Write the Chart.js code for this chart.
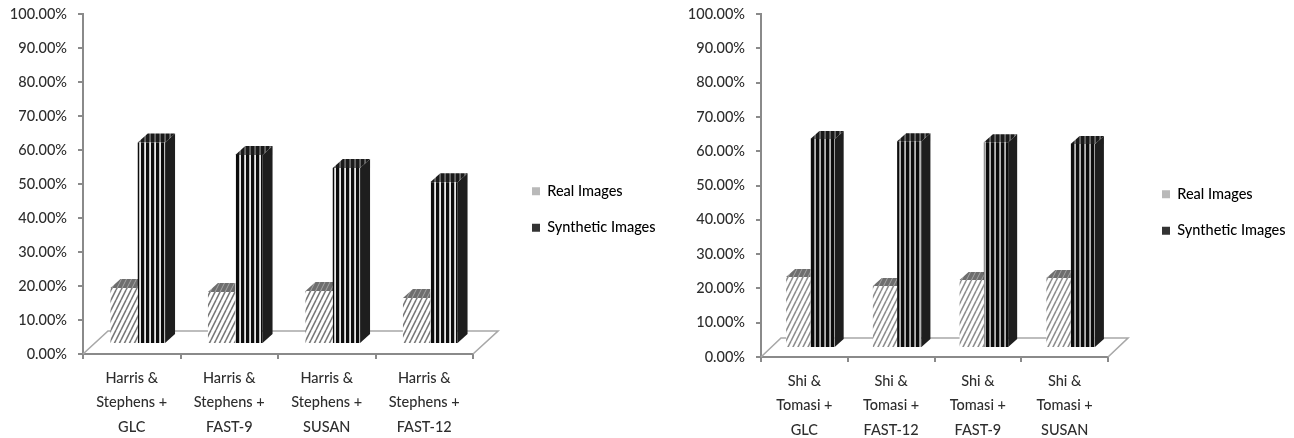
<!DOCTYPE html>
<html>
<head>
<meta charset="utf-8">
<script src="https://cdn.jsdelivr.net/npm/chart.js@4"></script>
<style>
html,body{margin:0;padding:0;background:#fff;width:1294px;height:438px;overflow:hidden}
canvas{position:absolute;top:0;filter:blur(0.45px)}
#left{left:0}
#right{left:660px}
</style>
</head>
<body>
<canvas id="left" width="660" height="438"></canvas>
<canvas id="right" width="634" height="438"></canvas>
<script>
const leftCategories = [
  ["Harris &","Stephens +","GLC"],
  ["Harris &","Stephens +","FAST-9"],
  ["Harris &","Stephens +","SUSAN"],
  ["Harris &","Stephens +","FAST-12"]
];
const leftReal = [16.5, 15.3, 15.6, 13.5];
const leftSynthetic = [59.3, 55.6, 51.8, 47.6];

const rightCategories = [
  ["Shi &","Tomasi +","GLC"],
  ["Shi &","Tomasi +","FAST-12"],
  ["Shi &","Tomasi +","FAST-9"],
  ["Shi &","Tomasi +","SUSAN"]
];
const rightReal = [20.7, 18.1, 19.8, 20.4];
const rightSynthetic = [60.9, 60.3, 60.0, 59.5];

const seriesNames = ["Real Images","Synthetic Images"];
const yTicks = [0,10,20,30,40,50,60,70,80,90,100];

Chart.defaults.animation = false;
const FONT = "Lato, 'Open Sans', sans-serif";
const TEXT = "#2e2e2e", AXIS = "#8a8a8a";

function tile(w,h,paint){
  const c=document.createElement('canvas');c.width=w;c.height=h;
  paint(c.getContext('2d'),w,h);
  return c.getContext('2d').createPattern(c,'repeat');
}
const hatch = (bg,fg,lw)=>tile(5,10,(g,w,h)=>{
  g.fillStyle=bg;g.fillRect(0,0,w,h);
  g.strokeStyle=fg;g.lineWidth=lw;
  [-5,0,5].forEach(o=>{g.beginPath();g.moveTo(o,h);g.lineTo(o+w,0);g.stroke();});
});
const stripes = (bg,fg)=>tile(5,4,(g,w,h)=>{
  g.fillStyle=bg;g.fillRect(0,0,w,h);
  g.fillStyle=fg;g.fillRect(3.2,0,1.8,h);
});

function makeChart(id,cats,real,synth,geo){
  const realFront=hatch('#fff',geo.hatch,1.6), realTop=hatch('#6e6e6e','#a5a5a5',1);
  const synthFront=stripes('#0c0c0c',geo.stripe), synthTop=stripes('#1a1a1a','#666');
  const cv=document.getElementById(id);
  const threeD={
    id:'threeD',
    beforeInit(chart){
      const fit=chart.legend.fit;
      chart.legend.fit=function(){fit.call(this);this.width=cv.width-geo.right;};
    },
    beforeDraw(chart){
      chart.legend.left=geo.legendX;
      chart.legend.right=geo.legendX+180;
      chart.legend.top=geo.legendY;
      chart.legend.bottom=geo.legendY+200;
    },
    beforeDatasetsDraw(chart){
      const c=chart.ctx,x=chart.scales.x,y=chart.scales.y,y0=y.getPixelForValue(0);
      c.save();
      c.strokeStyle='#a8a8a8';c.lineWidth=1.6;
      c.beginPath();
      c.moveTo(x.left,y0);
      c.lineTo(x.left+geo.floorX,y0-geo.floorY);
      c.lineTo(x.right+geo.floorX,y0-geo.floorY);
      c.lineTo(x.right,y0);
      c.stroke();
      c.restore();
      c.save();
      c.translate(geo.shiftX,-geo.shiftY);
      chart.data.datasets.forEach((ds,di)=>{
        chart.getDatasetMeta(di).data.forEach(b=>{
          const l=b.x-b.width/2,r=b.x+b.width/2,t=b.y,bot=b.base;
          // side face
          c.fillStyle=di?'#1e1e1e':'#777';
          c.beginPath();
          c.moveTo(r,t);c.lineTo(r+geo.depthX,t-geo.depthY);
          c.lineTo(r+geo.depthX,bot-geo.depthY);c.lineTo(r,bot);c.closePath();c.fill();
          // top face
          c.fillStyle=di?synthTop:realTop;
          c.beginPath();
          c.moveTo(l,t);c.lineTo(l+geo.depthX,t-geo.depthY);
          c.lineTo(r+geo.depthX,t-geo.depthY);c.lineTo(r,t);c.closePath();c.fill();
        });
      });
    },
    afterDatasetsDraw(chart){chart.ctx.restore();}
  };
  return new Chart(cv,{
    type:'bar',
    data:{labels:cats,datasets:[
      {label:seriesNames[0],data:real,backgroundColor:realFront,clip:false},
      {label:seriesNames[1],data:synth,backgroundColor:synthFront,clip:false}
    ]},
    options:{
      responsive:false,
      layout:{padding:{top:geo.top,left:0,right:0,bottom:0}},
      datasets:{bar:{categoryPercentage:0.56,barPercentage:1}},
      plugins:{
        title:{display:false},tooltip:{enabled:false},
        legend:{
          position:'right',align:'start',
          labels:{
            boxWidth:8,boxHeight:8,padding:22,color:TEXT,
            font:{family:FONT,size:14.5,weight:'500'},
            generateLabels:()=>[
              {text:seriesNames[0],fillStyle:'#b9b9b9',strokeStyle:'#b9b9b9',lineWidth:0,datasetIndex:0,hidden:false},
              {text:seriesNames[1],fillStyle:'#333',strokeStyle:'#333',lineWidth:0,datasetIndex:1,hidden:false}
            ]
          }
        }
      },
      scales:{
        x:{
          afterFit:s=>{s.height=cv.height-geo.zero;},
          border:{color:AXIS,width:2},
          grid:{drawOnChartArea:false,color:AXIS,lineWidth:2,tickLength:5},
          ticks:{autoSkip:false,maxRotation:0,minRotation:0,padding:7,color:TEXT,
            font:{family:FONT,size:14.5,lineHeight:1.69,weight:'500'}}
        },
        y:{
          min:0,max:100,
          afterFit:s=>{s.width=geo.axisX;s.paddingTop=0;s.paddingBottom=0;},
          afterBuildTicks:s=>{s.ticks=yTicks.map(v=>({value:v}));},
          border:{color:AXIS,width:2},
          grid:{drawOnChartArea:false,color:AXIS,lineWidth:2,tickLength:5},
          ticks:{padding:11,color:TEXT,callback:v=>v.toFixed(2)+'%',
            font:{family:FONT,size:14.5,weight:'500'}}
        }
      }
    },
    plugins:[threeD]
  });
}

makeChart('left',leftCategories,leftReal,leftSynthetic,{
  axisX:83,right:473,top:14,zero:354,shiftX:6,shiftY:10,depthX:10,depthY:9,
  floorX:25,floorY:23,legendX:510,legendY:162,hatch:'#777',stripe:'#e8e8e8'
});
makeChart('right',rightCategories,rightReal,rightSynthetic,{
  axisX:101,right:448,top:14,zero:357,shiftX:6,shiftY:9,depthX:9,depthY:8,
  floorX:20,floorY:19,legendX:480,legendY:165,hatch:'#8e8e8e',stripe:'#b5b5b5'
});
</script>
</body>
</html>
